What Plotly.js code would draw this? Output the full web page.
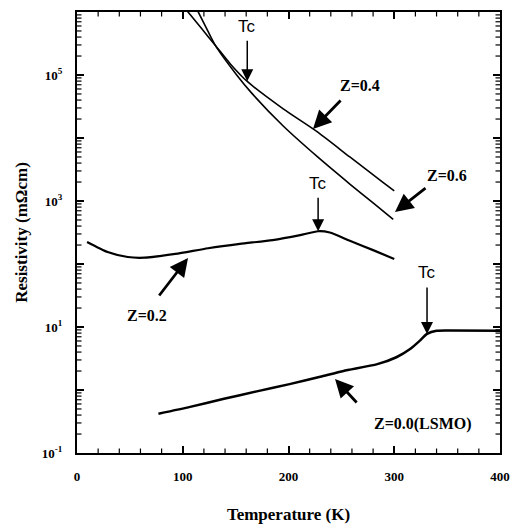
<!DOCTYPE html>
<html>
<head>
<meta charset="utf-8">
<script src="https://cdn.plot.ly/plotly-3.0.1.min.js"></script>
<style>html,body{margin:0;padding:0;background:#fff}</style>
</head>
<body>
<div id="chart" style="width:517px;height:530px"></div>
<script>
// ---- Data ----
const z04T = [103, 118, 130.5, 145, 161, 195, 227, 258, 289, 300];
const z04R = [1.1e6, 5.4e5, 3.0e5, 1.5e5, 7.9e4, 2.9e4, 1.26e4, 5.0e3, 2.0e3, 1.45e3];

const z06T = [114, 122, 130.5, 151, 165, 195, 227, 258, 280, 299];
const z06R = [1.05e6, 5.7e5, 3.0e5, 1.0e5, 5.2e4, 1.55e4, 5.1e3, 1.86e3, 930, 510];

const z02T = [9.5, 29, 48, 64, 93, 124, 154, 185, 211, 228, 239, 258, 280, 300];
const z02R = [224, 155, 129, 126, 145, 178, 209, 240, 288, 331, 316, 234, 166, 120];

const z00T = [77, 107, 138, 170, 201, 230, 252, 284, 302, 315, 324, 331, 340, 353, 400];
const z00R = [0.42, 0.54, 0.72, 0.95, 1.24, 1.62, 2.0, 2.57, 3.31, 4.47, 6.03, 7.76, 8.71, 8.8, 8.7];

const xMajor = [0, 100, 200, 300, 400];
const xMajorText = ['0', '100', '200', '300', '400'];
const yMajor = [0.1, 1, 10, 100, 1000, 1e4, 1e5, 1e6];
const yMajorText = ['10<sup>-1</sup>', '', '10<sup>1</sup>', '', '10<sup>3</sup>', '', '10<sup>5</sup>', ''];

// Tc positions: T, log10(R) at arrow tip, tail offset px
const tcMarks = [
  {T: 161, logR: 4.90, len: 42},
  {T: 228, logR: 2.52, len: 35},
  {T: 331, logR: 0.89, len: 48}
];

// Curve labels: text position and arrow tip (T, log10 R) with tail offset in px
const labels = [
  {text: 'Z=0.4', tx: 267.6, ty: 4.83, ax: 223.2, ay: 4.143, dx: 29, dy: -30},
  {text: 'Z=0.6', tx: 349.9, ty: 3.397, ax: 300.7, ay: 2.825, dx: 32, dy: -25},
  {text: 'Z=0.2', tx: 66.2, ty: 1.175, ax: 105, ay: 2.095, dx: -30, dy: 39},
  {text: 'Z=0.0(LSMO)', tx: 327.2, ty: -0.54, ax: 244, ay: 0.175, dx: 23, dy: 25}
];

// minor tick positions
const xMinor = [];
for (let v = 20; v < 400; v += 20) if (v % 100 !== 0) xMinor.push(v);
const yMinor = [];
for (let e = -1; e < 6; e++) for (let m = 2; m <= 9; m++) yMinor.push(m * Math.pow(10, e));

const yRange = [-1, 6];
const plotW = 517 - 77 - 17, plotH = 530 - 12 - 77;
const minorLen = 4.5;

// minor ticks drawn as short line shapes on all four sides (mirror)
const shapes = [];
const tickLine = {color: '#000', width: 1.2};
xMinor.forEach(v => {
  shapes.push({type: 'line', layer: 'above', xref: 'x', yref: 'paper', x0: v, x1: v, y0: 0, y1: minorLen / plotH, line: tickLine});
  shapes.push({type: 'line', layer: 'above', xref: 'x', yref: 'paper', x0: v, x1: v, y0: 1, y1: 1 - minorLen / plotH, line: tickLine});
});
yMinor.forEach(v => {
  const f = (Math.log10(v) - yRange[0]) / (yRange[1] - yRange[0]);
  shapes.push({type: 'line', layer: 'above', xref: 'paper', yref: 'paper', x0: 0, x1: minorLen / plotW, y0: f, y1: f, line: tickLine});
  shapes.push({type: 'line', layer: 'above', xref: 'paper', yref: 'paper', x0: 1, x1: 1 - minorLen / plotW, y0: f, y1: f, line: tickLine});
});

const serif = 'Liberation Serif, Times New Roman, serif';
const line = (x, y, w) => ({x: x, y: y, type: 'scatter', mode: 'lines',
  line: {color: '#000', width: w, shape: 'spline', smoothing: 0.6}, hoverinfo: 'skip'});

const traces = [
  line(z04T, z04R, 1.6),
  line(z06T, z06R, 1.6),
  line(z02T, z02R, 2.2),
  line(z00T, z00R, 2.5)
];

const annotations = [];
tcMarks.forEach(t => {
  annotations.push({x: t.T, y: t.logR, xref: 'x', yref: 'y', text: '', showarrow: true,
    ax: 0, ay: -t.len, arrowhead: 2, arrowsize: 1.6, arrowwidth: 1.5, arrowcolor: '#000'});
  annotations.push({x: t.T, y: t.logR, xref: 'x', yref: 'y', text: 'Tc', showarrow: false,
    yshift: t.len + 13, font: {family: 'Liberation Sans, Arial, sans-serif', size: 17, color: '#000'}});
});
labels.forEach(l => {
  annotations.push({x: l.ax, y: l.ay, xref: 'x', yref: 'y', text: '', showarrow: true,
    ax: l.dx, ay: l.dy, arrowhead: 2, arrowsize: 1.3, arrowwidth: 2.8, arrowcolor: '#000'});
  annotations.push({x: l.tx, y: l.ty, xref: 'x', yref: 'y', text: l.text, showarrow: false,
    font: {family: serif, size: 16, color: '#000', weight: 'bold'}});
});

const layout = {
  width: 517, height: 530,
  margin: {l: 77, r: 17, t: 12, b: 77},
  paper_bgcolor: '#fff', plot_bgcolor: '#fff',
  showlegend: false,
  xaxis: {
    range: [0, 400], tickmode: 'array', tickvals: xMajor, ticktext: xMajorText,
    ticks: 'inside', ticklen: 7, tickwidth: 1.5, tickcolor: '#000',
    showline: true, linewidth: 2, linecolor: '#000', mirror: 'ticks',
    showgrid: false, zeroline: false,
    ticklabelstandoff: 10,
    tickfont: {family: serif, size: 13, color: '#000', weight: 'bold'},
    title: {text: 'Temperature (K)', standoff: 26, font: {family: serif, size: 17, color: '#000', weight: 'bold'}}
  },
  yaxis: {
    type: 'log', range: yRange, tickmode: 'array', tickvals: yMajor, ticktext: yMajorText,
    ticks: 'inside', ticklen: 7, tickwidth: 1.5, tickcolor: '#000',
    showline: true, linewidth: 2, linecolor: '#000', mirror: 'ticks',
    showgrid: false, zeroline: false,
    ticklabelstandoff: 10,
    tickfont: {family: serif, size: 13, color: '#000', weight: 'bold'},
    title: {text: 'Resistivity (mΩcm)', standoff: 10, font: {family: serif, size: 17, color: '#000', weight: 'bold'}}
  },
  shapes: shapes,
  annotations: annotations
};

Plotly.newPlot('chart', traces, layout, {displayModeBar: false});
</script>
</body>
</html>
